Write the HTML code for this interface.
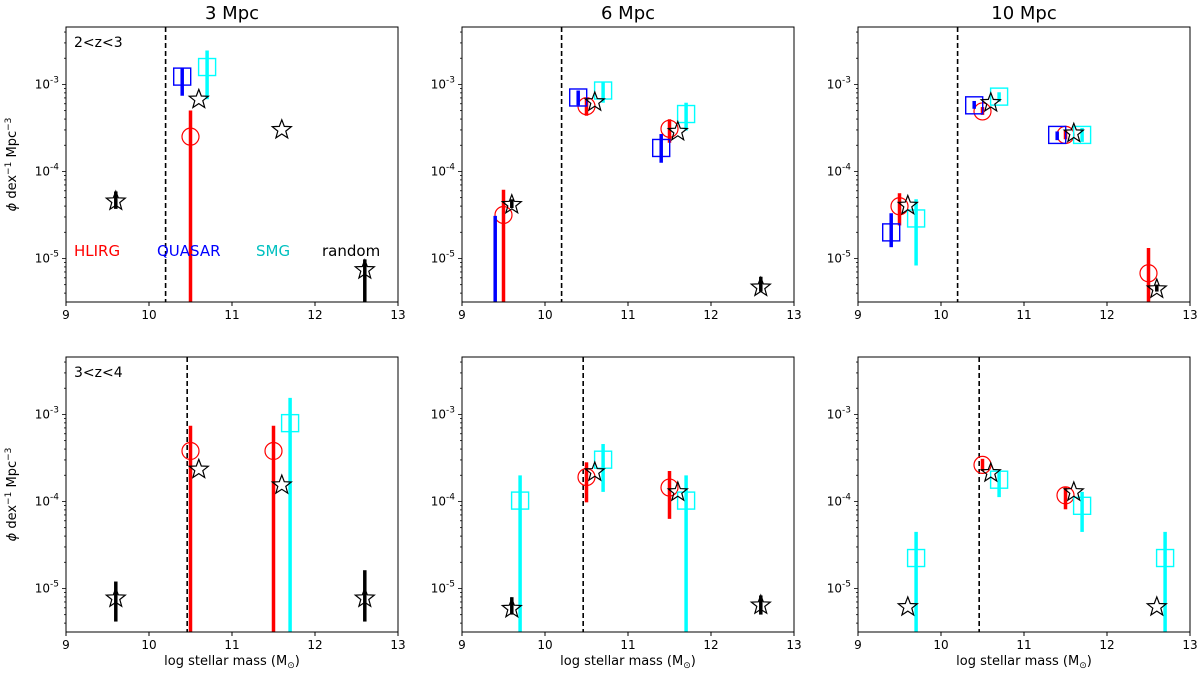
<!DOCTYPE html>
<html><head><meta charset="utf-8"><style>
body{margin:0;background:#fff;}
svg text{font-family:"DejaVu Sans","Liberation Sans",sans-serif;}
</style></head><body>
<svg id="fig" width="1200" height="676" viewBox="0 0 1200 676" xmlns="http://www.w3.org/2000/svg"></svg>
<script>
// Data: [log mass, log10 phi, err low, err high]; -9 = extends to axis bottom
const massTicks = [9, 10, 11, 12, 13];
const phiTicks = [-5, -4, -3];
const colTitles = ["3 Mpc", "6 Mpc", "10 Mpc"];
const rowLabels = ["2<z<3", "3<z<4"];
const cutTop = 10.2;
const cutBottom = 10.46;

const a_hlirg = [[10.5, -3.60, -9, -3.30]];
const a_quasar = [[10.4, -2.91, -3.13, -2.81]];
const a_smg = [[10.7, -2.80, -3.17, -2.61]];
const a_random = [[9.6, -4.33, -4.43, -4.23], [10.6, -3.16, -3.16, -3.16], [11.6, -3.51, -3.51, -3.51], [12.6, -5.12, -9, -5.01]];

const b_hlirg = [[9.5, -4.50, -9, -4.21], [10.5, -3.25, -3.36, -3.16], [11.5, -3.51, -3.67, -3.40]];
const b_quasar = [[9.4, -6.5, -9, -4.51], [10.4, -3.15, -3.24, -3.07], [11.4, -3.73, -3.90, -3.57]];
const b_smg = [[10.7, -3.07, -3.21, -2.97], [11.7, -3.34, -3.53, -3.21]];
const b_random = [[9.6, -4.37, -4.42, -4.32], [10.6, -3.19, -3.19, -3.19], [11.6, -3.53, -3.53, -3.53], [12.6, -5.32, -5.38, -5.21]];

const c_hlirg = [[9.5, -4.40, -4.62, -4.25], [10.5, -3.31, -3.35, -3.26], [11.5, -3.58, -3.63, -3.53], [12.5, -5.17, -9, -4.88]];
const c_quasar = [[9.4, -4.70, -4.87, -4.48], [10.4, -3.24, -3.28, -3.19], [11.4, -3.58, -3.64, -3.54]];
const c_smg = [[9.7, -4.54, -5.08, -4.32], [10.7, -3.14, -3.20, -3.09], [11.7, -3.58, -3.66, -3.50]];
const c_random = [[9.6, -4.38, -4.38, -4.38], [10.6, -3.20, -3.20, -3.20], [11.6, -3.55, -3.55, -3.55], [12.6, -5.34, -5.38, -5.30]];

const d_hlirg = [[10.5, -3.42, -9, -3.13], [11.5, -3.42, -9, -3.13]];
const d_quasar = [];
const d_smg = [[11.7, -3.10, -9, -2.81]];
const d_random = [[9.6, -5.10, -5.38, -4.92], [10.6, -3.62, -3.62, -3.62], [11.6, -3.80, -3.80, -3.80], [12.6, -5.10, -5.38, -4.79]];

const e_hlirg = [[10.5, -3.72, -4.01, -3.55], [11.5, -3.84, -4.20, -3.65]];
const e_quasar = [];
const e_smg = [[9.7, -3.99, -9, -3.70], [10.7, -3.52, -3.89, -3.34], [11.7, -3.99, -9, -3.70]];
const e_random = [[9.6, -5.22, -5.30, -5.10], [10.6, -3.65, -3.65, -3.65], [11.6, -3.88, -3.88, -3.88], [12.6, -5.18, -5.30, -5.08]];

const f_hlirg = [[10.5, -3.58, -3.65, -3.51], [11.5, -3.93, -4.09, -3.84]];
const f_quasar = [];
const f_smg = [[9.7, -4.65, -9, -4.35], [10.7, -3.75, -3.95, -3.65], [11.7, -4.05, -4.35, -3.89], [12.7, -4.65, -9, -4.35]];
const f_random = [[9.6, -5.20, -5.20, -5.20], [10.6, -3.66, -3.66, -3.66], [11.6, -3.88, -3.88, -3.88], [12.6, -5.20, -5.20, -5.20]];

const panelsData = [
  [a_hlirg, a_quasar, a_smg, a_random], [b_hlirg, b_quasar, b_smg, b_random], [c_hlirg, c_quasar, c_smg, c_random],
  [d_hlirg, d_quasar, d_smg, d_random], [e_hlirg, e_quasar, e_smg, e_random], [f_hlirg, f_quasar, f_smg, f_random]
];

const NS = "http://www.w3.org/2000/svg";
const svg = document.getElementById("fig");
function mk(tag, attrs, parent) {
  const e = document.createElementNS(NS, tag);
  for (const k in attrs) e.setAttribute(k, attrs[k]);
  (parent || svg).appendChild(e);
  return e;
}
const colX = [66, 462, 858];
const rowY = [27, 357];
const PW = 332, PH = 275;
const YMIN = -5.5, YMAX = -2.34;
const colors = ["#ff0000", "#0000ff", "#00ffff", "#000000"];
const seriesNames = ["hlirg", "quasar", "smg", "random"];

function starPath(cx, cy, R) {
  const r = R * 0.42; let d = "";
  for (let i = 0; i < 10; i++) {
    const a = -Math.PI / 2 + i * Math.PI / 5;
    const rr = i % 2 ? r : R;
    d += (i ? "L" : "M") + (cx + rr * Math.cos(a)).toFixed(1) + "," + (cy + rr * Math.sin(a)).toFixed(1);
  }
  return d + "Z";
}

for (let p = 0; p < 6; p++) {
  const row = Math.floor(p / 3), col = p % 3;
  const x0 = colX[col], y0 = rowY[row];
  const sx = m => x0 + (m - 9) / 4 * PW;
  const sy = v => y0 + (YMAX - Math.max(v, YMIN - 0.5)) / (YMAX - YMIN) * PH;
  const g = mk("g", {});
  
  
  const cid = "clip" + p;
  const cp = mk("clipPath", {id: cid}, g);
  mk("rect", {x: x0, y: y0, width: PW, height: PH}, cp);
  const plot = mk("g", {"clip-path": "url(#" + cid + ")"}, g);

  // dashed cut line
  const cut = row === 0 ? cutTop : cutBottom;
  const dl = mk("line", {x1: sx(cut), x2: sx(cut), y1: y0, y2: y0 + PH, stroke: "#000", "stroke-width": 1.6, "stroke-dasharray": "5,3"}, plot);
  
  

  const data = panelsData[p];
  for (let s = 0; s < 4; s++) {
    for (const pt of data[s]) {
      const [m, v, lo, hi] = pt;
      const cx = sx(m), cy = sy(v);
      if (hi > lo) {
        const eb = mk("line", {x1: cx, x2: cx, y1: sy(lo), y2: sy(hi), stroke: colors[s], "stroke-width": 3.5}, plot);
        
        
      }
      let mkEl;
      if (s === 0) mkEl = mk("circle", {cx: cx, cy: cy, r: 8.5, fill: "none", stroke: colors[s], "stroke-width": 1.2}, plot);
      else if (s === 1 || s === 2) mkEl = mk("rect", {x: cx - 8.5, y: cy - 8.5, width: 17, height: 17, fill: "none", stroke: colors[s], "stroke-width": 1.4}, plot);
      else mkEl = mk("path", {d: starPath(cx, cy + 1, 10), fill: "none", stroke: "#000", "stroke-width": 1.2}, plot);
      
      
    }
  }

  // frame
  const fr = mk("rect", {x: x0, y: y0, width: PW, height: PH, fill: "none", stroke: "#000", "stroke-width": 1}, g);
  
  

  // x ticks
  for (const t of massTicks) {
    const x = sx(t);
    mk("line", {x1: x, x2: x, y1: y0 + PH, y2: y0 + PH + 4, stroke: "#000"}, g);
    const tl = mk("text", {x: x, y: y0 + PH + 17, "font-size": 12, "text-anchor": "middle"}, g);
    tl.textContent = t;
    
    
  }
  // y ticks (log)
  for (let dec = -6; dec <= -3; dec++) {
    for (let k = 1; k <= 9; k++) {
      const v = dec + Math.log10(k);
      if (v < YMIN || v > YMAX) continue;
      const y = sy(v);
      mk("line", {x1: x0 - (k === 1 ? 4 : 2), x2: x0, y1: y, y2: y, stroke: "#000", "stroke-width": 0.8}, g);
    }
  }
  for (const t of phiTicks) {
    const y = sy(t);
    const tl = mk("text", {x: x0 - 7, y: y + 4, "font-size": 12, "text-anchor": "end"}, g);
    tl.innerHTML = '10<tspan dy="-6" font-size="9">' + t + '</tspan>';
    
    
  }
  if (row === 0) {
    const tt = mk("text", {x: x0 + PW / 2, y: 19, "font-size": 18, "text-anchor": "middle"}, g);
    tt.textContent = colTitles[col];
    
    
  } else {
    const xl = mk("text", {x: x0 + PW / 2, y: 665, "font-size": 13, "text-anchor": "middle"}, g);
    xl.innerHTML = 'log stellar mass (M<tspan dy="3" font-size="9">⊙</tspan><tspan dy="-3">)</tspan>';
    
    
  }
  if (col === 0) {
    const rl = mk("text", {x: x0 + 8, y: y0 + 20, "font-size": 14}, g);
    rl.textContent = rowLabels[row];
    
    
    const yl = mk("text", {x: 0, y: 0, "font-size": 13, "text-anchor": "middle", transform: "translate(16," + (y0 + PH / 2) + ") rotate(-90)"}, g);
    yl.innerHTML = '<tspan font-style="italic">ϕ</tspan> dex<tspan dy="-5" font-size="9">−1</tspan><tspan dy="5"> Mpc</tspan><tspan dy="-5" font-size="9">−3</tspan>';
    
    
  }
}
// legend
const legItems = [["HLIRG", "#ff0000", 74], ["QUASAR", "#0000ff", 157], ["SMG", "#00c0c0", 256], ["random", "#000000", 322]];
for (const [t, c, x] of legItems) {
  const l = mk("text", {x: x, y: 256, "font-size": 15, fill: c});
  l.textContent = t;
  
  
}
</script>
</body></html>
